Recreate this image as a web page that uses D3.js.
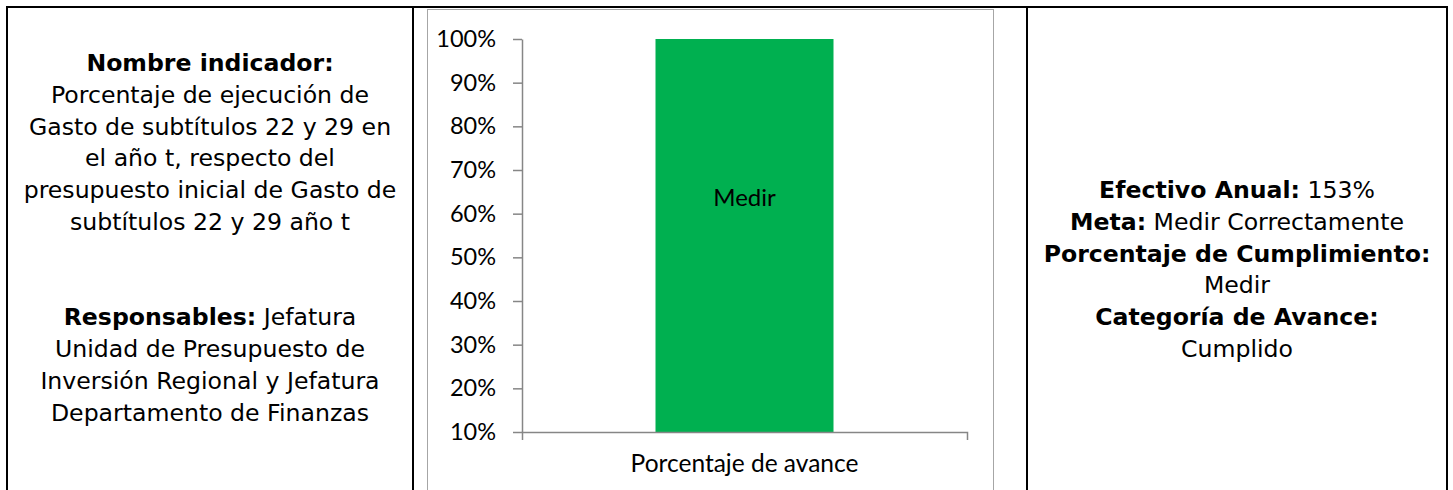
<!DOCTYPE html>
<html>
 <head>
  <meta charset="utf-8">
  <script src="https://cdn.jsdelivr.net/npm/d3@7"></script>
  <style>
   body { margin: 0; background: #fff; }
  </style>
 </head>
 <body>
  <div id="chart"></div>
  <script type="text/javascript">
   // data
   var categories = ["Porcentaje de avance"];
   var values = [1.0];
   var barLabels = ["Medir"];
   var yTicks = [0.1, 0.2, 0.3, 0.4, 0.5, 0.6, 0.7, 0.8, 0.9, 1.0];

   // texts of the side cells: [bold part, normal part], null = empty line
   var leftLines = [
     ["Nombre indicador:", ""],
     ["", "Porcentaje de ejecución de"],
     ["", "Gasto de subtítulos 22 y 29 en"],
     ["", "el año t, respecto del"],
     ["", "presupuesto inicial de Gasto de"],
     ["", "subtítulos 22 y 29 año t"],
     null, null,
     ["Responsables:", " Jefatura"],
     ["", "Unidad de Presupuesto de"],
     ["", "Inversión Regional y Jefatura"],
     ["", "Departamento de Finanzas"]
   ];
   var rightLines = [
     ["Efectivo Anual:", " 153%"],
     ["Meta:", " Medir Correctamente"],
     ["Porcentaje de Cumplimiento:", ""],
     ["", "Medir"],
     ["Categoría de Avance:", ""],
     ["", "Cumplido"]
   ];

   var W = 1453, H = 490;
   var svg = d3.select("#chart").append("svg")
     .attr("width", W).attr("height", H);

   // table borders
   svg.append("line").attr("x1", 6).attr("x2", 1448).attr("y1", 7).attr("y2", 7)
     .attr("stroke", "#000").attr("stroke-width", 2);
   [7, 413, 1027, 1447].forEach(function (x) {
     svg.append("line").attr("x1", x).attr("x2", x).attr("y1", 6).attr("y2", H)
       .attr("stroke", "#000").attr("stroke-width", 2);
   });

   // chart frame
   svg.append("rect").attr("x", 427.5).attr("y", 9.5).attr("width", 566).attr("height", 490)
     .attr("fill", "#fff").attr("stroke", "#a6a6a6").attr("stroke-width", 1);

   // side texts
   function block(lines, cx, y0, lh, size) {
     var t = svg.append("g");
     lines.forEach(function (l, i) {
       if (!l) return;
       var txt = t.append("text")
         .attr("x", cx).attr("y", y0 + i * lh)
         .attr("text-anchor", "middle")
         .style("font-family", "'DejaVu Sans', Verdana, sans-serif")
         .style("font-size", size + "px")
         .attr("fill", "#000");
       if (l[0]) txt.append("tspan").attr("font-weight", "bold").text(l[0]);
       if (l[1]) txt.append("tspan").text(l[1]);
     });
   }
   block(leftLines, 210, 71, 31.8, 23.6);
   block(rightLines, 1237, 198, 31.8, 23.6);

   // bar chart
   var m = {left: 522, right: 967, top: 39, bottom: 432};
   var x = d3.scaleBand().domain(categories).range([m.left, m.right]).paddingInner(0.6).paddingOuter(0.3);
   var y = d3.scaleLinear().domain([0.1, 1.0]).range([m.bottom, m.top]);
   var chartFont = "Lato, 'Open Sans', sans-serif";

   var yAxis = svg.append("g")
     .attr("transform", "translate(" + m.left + ",0)")
     .call(d3.axisLeft(y).tickValues(yTicks).tickFormat(d3.format(".0%")).tickSize(9).tickSizeOuter(0).tickPadding(17));
   yAxis.select(".domain").attr("stroke", "#868686").attr("stroke-width", 1.5);
   yAxis.selectAll(".tick line").attr("stroke", "#868686").attr("stroke-width", 1.5);
   yAxis.selectAll("text")
     .style("font-family", chartFont).style("font-size", "23.5px").attr("fill", "#000");

   svg.selectAll(".bar").data(values).enter().append("rect")
     .attr("class", "bar")
     .attr("x", function (d, i) { return x(categories[i]); })
     .attr("width", x.bandwidth())
     .attr("y", function (d) { return y(d); })
     .attr("height", function (d) { return y(0.1) - y(d); })
     .attr("fill", "#00b050");

   svg.selectAll(".barlabel").data(values).enter().append("text")
     .attr("class", "barlabel")
     .attr("x", function (d, i) { return x(categories[i]) + x.bandwidth() / 2; })
     .attr("y", 206)
     .attr("text-anchor", "middle")
     .style("font-family", chartFont).style("font-size", "24px")
     .text(function (d, i) { return barLabels[i]; });

   var xAxis = svg.append("g")
     .attr("transform", "translate(0," + m.bottom + ")")
     .call(d3.axisBottom(x).tickSize(0).tickSizeOuter(8).tickPadding(23));
   xAxis.select(".domain").attr("stroke", "#868686").attr("stroke-width", 1.5);
   xAxis.selectAll("text")
     .style("font-family", chartFont).style("font-size", "24.5px").attr("fill", "#000");
  </script>
 </body>
</html>
